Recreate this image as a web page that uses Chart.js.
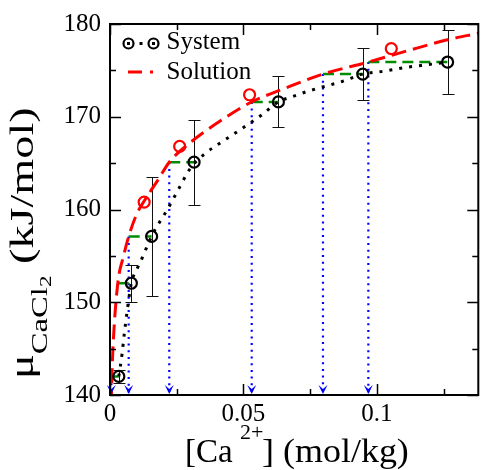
<!DOCTYPE html>
<html><head><meta charset="utf-8">
<script src="https://cdn.jsdelivr.net/npm/chart.js@4.4.1/dist/chart.umd.min.js"></script>
<style>html,body{margin:0;padding:0;background:#fff;}#c{display:block;}</style>
</head><body>
<canvas id="c" width="486" height="470"></canvas>
<script>
// ---- data ----
const sysX   = [0.0033, 0.0080, 0.0156, 0.0315, 0.0631, 0.0947, 0.1265];
const sysY   = [142.0, 152.05, 157.1, 165.1, 171.6, 174.6, 175.9];
const sysErr = [0.7, 2.0, 6.45, 4.6, 2.75, 2.8, 3.5];

const solX = [0.0128, 0.0261, 0.0523, 0.1054];
const solY = [160.8, 166.8, 172.37, 177.35];

const solCurveX = [0.0003, 0.0007, 0.0012, 0.0029, 0.0050, 0.0070, 0.0100, 0.0130, 0.0180, 0.0222, 0.0300, 0.0400, 0.0531, 0.0650, 0.0798, 0.0968, 0.1150, 0.1265, 0.1380];
const solCurveY = [136.5, 141.9, 145.6, 152.0, 154.9, 157.1, 159.5, 161.0, 163.2, 165.1, 167.2, 169.3, 171.6, 173.0, 174.6, 175.9, 177.4, 178.3, 179.0];

const sysCurveX = [0.0033, 0.0045, 0.0054, 0.0064, 0.0080, 0.0104, 0.0121, 0.0137, 0.0156, 0.0174, 0.0196, 0.0217, 0.0257, 0.0300, 0.0355, 0.0425, 0.0493, 0.0564, 0.0631, 0.0686, 0.0747, 0.0821, 0.0870, 0.0947, 0.1023, 0.1115, 0.1200, 0.1265];
const sysCurveY = [142.0, 144.4, 146.7, 149.0, 152.05, 153.75, 154.8, 155.9, 157.1, 158.1, 159.1, 160.1, 162.2, 164.4, 166.0, 167.4, 168.7, 170.1, 171.6, 172.2, 172.8, 173.4, 173.8, 174.6, 174.9, 175.35, 175.65, 175.9];

// green dashed steps: start x (on Solution curve) at the System level
const stepStartX = [0.0009, 0.0029, 0.0070, 0.0222, 0.0531, 0.0798, 0.0968];
// blue dotted drops with arrows
const dropX = [0.0005, 0.0070, 0.0222, 0.0531, 0.0798, 0.0968];
const dropY = [142.0, 157.1, 165.1, 171.6, 174.6, 175.9];

const xMajor = [0, 0.05, 0.1];
const xMinor = [0.025, 0.075, 0.125];
const yMajor = [140, 150, 160, 170, 180];
const yMinor = [145, 155, 165, 175];

const SERIF = '"Liberation Serif", "DejaVu Serif", serif';

// ---- datasets ----
const ds = [];
ds.push({label:'System', data: sysX.map((x,i)=>({x, y: sysY[i]})), showLine:false,
  pointStyle:'circle', pointRadius:5.5, pointBorderWidth:2.2, pointBorderColor:'#000',
  pointBackgroundColor:'rgba(0,0,0,0)', order:0});
ds.push({label:'SolPts', data: solX.map((x,i)=>({x, y: solY[i]})), showLine:false,
  pointStyle:'circle', pointRadius:5.5, pointBorderWidth:2.2, pointBorderColor:'#ff0000',
  pointBackgroundColor:'rgba(0,0,0,0)', order:1});
ds.push({label:'Solution', data: solCurveX.map((x,i)=>({x, y: solCurveY[i]})), showLine:true,
  borderColor:'#ff0000', borderWidth:3, borderDash:[15,7], pointRadius:0,
  cubicInterpolationMode:'monotone', order:2});
ds.push({label:'SysCurve', data: sysCurveX.map((x,i)=>({x, y: sysCurveY[i]})), showLine:true,
  borderColor:'#000', borderWidth:3, borderDash:[3,7], pointRadius:0,
  cubicInterpolationMode:'monotone', order:3});
stepStartX.forEach((x0,i)=>{
  ds.push({label:'step'+i, data:[{x:x0,y:sysY[i]},{x:sysX[i],y:sysY[i]}], showLine:true,
    borderColor:'#008b00', borderWidth:2.5, borderDash:[11,6], pointRadius:0, order:4});
});
dropX.forEach((x0,i)=>{
  ds.push({label:'drop'+i, data:[{x:x0,y:dropY[i]},{x:x0,y:140}], showLine:true,
    borderColor:'#0000ff', borderWidth:2.2, borderDash:[2,4.7], pointRadius:0, order:5});
});

// ---- decorations ----
const deco = {
  id:'deco',
  beforeDatasetsDraw(chart){
    const {ctx, scales:{x,y}} = chart;
    ctx.save();
    ctx.strokeStyle='#111'; ctx.lineWidth=1;
    sysX.forEach((xv,i)=>{
      const px=Math.round(x.getPixelForValue(xv))+0.5;
      const t=Math.round(y.getPixelForValue(sysY[i]+sysErr[i]))+0.5;
      const b=Math.round(y.getPixelForValue(sysY[i]-sysErr[i]))+0.5;
      ctx.beginPath();
      ctx.moveTo(px,t); ctx.lineTo(px,b);
      ctx.moveTo(px-6,t); ctx.lineTo(px+6,t);
      ctx.moveTo(px-6,b); ctx.lineTo(px+6,b);
      ctx.stroke();
    });
    ctx.restore();
  },
  afterDraw(chart){
    const {ctx, chartArea:a, scales:{x,y}} = chart;
    ctx.save();
    // arrow heads
    ctx.fillStyle='#0000ff';
    dropX.forEach(xv=>{
      const px=x.getPixelForValue(xv), py=y.getPixelForValue(140);
      ctx.beginPath();
      ctx.moveTo(px, py-1); ctx.lineTo(px-4.5, py-10); ctx.lineTo(px, py-6); ctx.lineTo(px+4.5, py-10);
      ctx.closePath(); ctx.fill();
    });
    // ticks
    ctx.strokeStyle='#000'; ctx.lineWidth=1.5;
    const tick=(arr,len,axis)=>arr.forEach(v=>{
      ctx.beginPath();
      if(axis==='x'){
        const px=Math.round(x.getPixelForValue(v))+0.5;
        ctx.moveTo(px,a.bottom); ctx.lineTo(px,a.bottom-len);
        ctx.moveTo(px,a.top); ctx.lineTo(px,a.top+len);
      } else {
        const py=Math.round(y.getPixelForValue(v))+0.5;
        ctx.moveTo(a.left,py); ctx.lineTo(a.left+len,py);
        ctx.moveTo(a.right,py); ctx.lineTo(a.right-len,py);
      }
      ctx.stroke();
    });
    tick(xMajor,11,'x'); tick(xMinor,6,'x'); tick(yMajor,11,'y'); tick(yMinor,6,'y');
    // frame
    ctx.lineWidth=2;
    ctx.strokeRect(a.left, a.top, a.right-a.left, a.bottom-a.top);

    // legend
    ctx.fillStyle='#000';
    [128.5,141,153.5].forEach(cx=>ctx.fillRect(cx-1.5,42,3,3));
    ctx.lineWidth=2.2; ctx.strokeStyle='#000';
    [128.5,153.5].forEach(cx=>{ctx.beginPath(); ctx.arc(cx,43.5,5,0,Math.PI*2); ctx.stroke();});
    ctx.strokeStyle='#ff0000'; ctx.lineWidth=3; ctx.setLineDash([14,8]);
    ctx.beginPath(); ctx.moveTo(128,72); ctx.lineTo(153,72); ctx.stroke();
    ctx.setLineDash([]);
    ctx.fillStyle='#000'; ctx.font='25px '+SERIF; ctx.textBaseline='alphabetic'; ctx.textAlign='left';
    ctx.fillText('System',166.5,48.5);
    ctx.fillText('Solution',166.5,78.5);

    // x title
    const base=462;
    ctx.font='33px '+SERIF; ctx.fillText('[Ca',185,base);
    ctx.font='22px '+SERIF; ctx.fillText('2+',240,base-23);
    ctx.save(); ctx.translate(262,base); ctx.scale(1.09,1);
    ctx.font='33px '+SERIF; ctx.fillText('] (mol/kg)',0,0);
    ctx.restore();

    // y title (rotated, reading upward)
    ctx.translate(33,379); ctx.rotate(-Math.PI/2); ctx.scale(1.36,1);
    let ty=0;
    ctx.font='34px '+SERIF; ctx.fillText('\u03bc',ty,0); ty+=ctx.measureText('\u03bc').width;
    ctx.font='24px '+SERIF; ctx.fillText('CaCl',ty,14); ty+=ctx.measureText('CaCl').width;
    ctx.font='17px '+SERIF; ctx.fillText('2',ty,18); ty+=ctx.measureText('2').width;
    ctx.font='34px '+SERIF; ctx.fillText(' (kJ/mol)',ty,0);
    ctx.restore();
  }
};

new Chart(document.getElementById('c'), {
  type:'line',
  data:{datasets:ds},
  options:{
    responsive:false, animation:false, devicePixelRatio:1,
    layout:{padding:{top:19,right:1,left:0,bottom:0}},
    plugins:{legend:{display:false}, tooltip:{enabled:false}},
    scales:{
      x:{type:'linear', min:0, max:0.138,
         grid:{display:false, drawTicks:false}, border:{display:false},
         ticks:{stepSize:0.05, includeBounds:false, autoSkip:false, maxRotation:0, padding:4, color:'#000',
                font:{family:SERIF, size:25}, callback:v=>String(+(+v).toFixed(3))},
         afterFit:s=>{s.height=75;}},
      y:{type:'linear', min:140, max:180,
         grid:{display:false, drawTicks:false}, border:{display:false},
         ticks:{stepSize:10, autoSkip:false, padding:9, color:'#000',
                font:{family:SERIF, size:25}, callback:v=>String(v)},
         afterFit:s=>{s.width=110;}}
    }
  },
  plugins:[deco]
});
</script>
</body></html>
